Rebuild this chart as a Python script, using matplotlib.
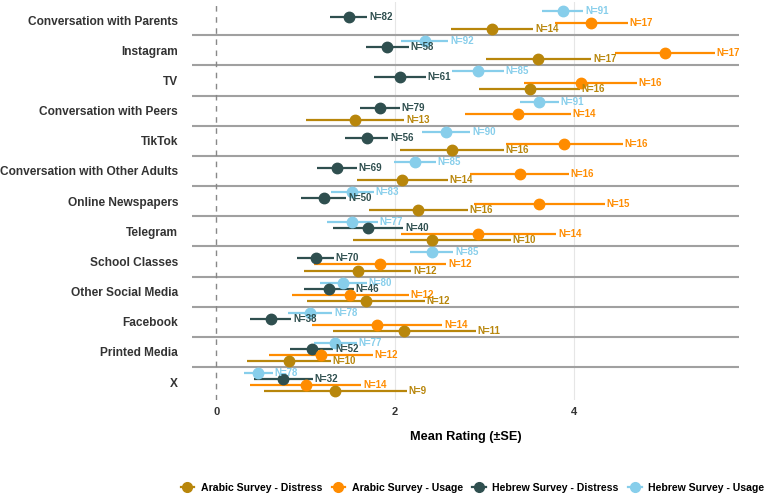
import matplotlib
matplotlib.use("Agg")
import matplotlib.pyplot as plt
from matplotlib.lines import Line2D
import numpy as np

plt.rcParams['font.family'] = ['Liberation Sans', 'DejaVu Sans']

categories = ["Conversation with Parents", "Instagram", "TV", "Conversation with Peers",
              "TikTok", "Conversation with Other Adults", "Online Newspapers", "Telegram",
              "School Classes", "Other Social Media", "Facebook", "Printed Media", "X"]

# Hebrew Survey - Usage
hu_mean = [3.87, 2.33, 2.92, 3.61, 2.57, 2.22, 1.52, 1.52, 2.41, 1.42, 1.05, 1.33, 0.47]
hu_se = [0.23, 0.265, 0.29, 0.22, 0.27, 0.235, 0.24, 0.285, 0.24, 0.26, 0.245, 0.24, 0.16]
hu_n = [91, 92, 85, 91, 90, 85, 83, 77, 85, 80, 78, 77, 78]
# Hebrew Survey - Distress
hd_mean = [1.48, 1.91, 2.05, 1.83, 1.68, 1.35, 1.20, 1.70, 1.11, 1.26, 0.61, 1.07, 0.75]
hd_se = [0.21, 0.24, 0.29, 0.22, 0.245, 0.22, 0.255, 0.39, 0.205, 0.28, 0.23, 0.24, 0.33]
hd_n = [82, 58, 61, 79, 56, 69, 50, 40, 70, 46, 38, 52, 32]
# Arabic Survey - Usage
au_mean = [4.19, 5.01, 4.07, 3.37, 3.89, 3.39, 3.61, 2.93, 1.83, 1.50, 1.80, 1.17, 1.00]
au_se = [0.41, 0.56, 0.63, 0.59, 0.65, 0.55, 0.73, 0.87, 0.74, 0.65, 0.725, 0.58, 0.62]
au_n = [17, 17, 16, 14, 16, 16, 15, 14, 12, 12, 14, 12, 14]
# Arabic Survey - Distress
ad_mean = [3.08, 3.60, 3.50, 1.55, 2.63, 2.08, 2.26, 2.41, 1.58, 1.67, 2.10, 0.81, 1.33]
ad_se = [0.46, 0.59, 0.56, 0.55, 0.58, 0.51, 0.55, 0.88, 0.60, 0.66, 0.80, 0.47, 0.80]
ad_n = [14, 17, 16, 13, 16, 14, 16, 10, 12, 12, 11, 10, 9]

series = [
    ("Hebrew Survey - Usage", hu_mean, hu_se, hu_n, "#87CEEB", -0.3),
    ("Hebrew Survey - Distress", hd_mean, hd_se, hd_n, "#2F4F4F", -0.1),
    ("Arabic Survey - Usage", au_mean, au_se, au_n, "#FF8C00", 0.1),
    ("Arabic Survey - Distress", ad_mean, ad_se, ad_n, "#B8860B", 0.3),
]

fig = plt.figure(figsize=(7.67, 4.96), dpi=100)
ax = fig.add_axes([0.2503, 0.193, 0.7132, 0.803])

y = np.arange(len(categories))

for name, m, se, n, col, off in series:
    m = np.array(m)
    se = np.array(se)
    ax.errorbar(m, y + off, xerr=se, fmt='o', color=col, ms=7.5, elinewidth=1.6,
                capsize=0, zorder=3)
    for yi, mi, si, ni in zip(y + off, m, se, n):
        ax.text(mi + si + 0.02, yi, f"N={ni}", color=col, fontsize=7,
                fontweight='bold', va='center', ha='left', zorder=4)

for i in range(len(categories) - 1):
    ax.axhline(i + 0.5, color="#a0a0a0", lw=1.5, zorder=1)

ax.axvline(0, color="#888888", lw=1, ls=(0, (4, 4)), zorder=1)
for gx in [2, 4]:
    ax.axvline(gx, color="#e6e6e6", lw=0.8, zorder=0)

ax.set_xlim(-0.27, 5.84)
ax.set_ylim(len(categories) - 1 + 0.6, -0.6)
ax.set_yticks(y)
ax.set_yticklabels(categories, fontsize=8.6, fontweight='bold', color="#333333")
ax.set_xticks([0, 2, 4])
ax.set_xticklabels(["0", "2", "4"], fontsize=8, fontweight='bold', color="#333333")
ax.tick_params(length=0, pad=10)
ax.tick_params(axis='x', pad=5)
for s in ax.spines.values():
    s.set_visible(False)
ax.set_xlabel("Mean Rating (\u00b1SE)", fontsize=9.2, fontweight='bold', labelpad=10)

handles = []
for name, m, se, n, col, off in reversed(series):
    handles.append(Line2D([0], [0], color=col, marker='o', ms=7, lw=1.6, label=name))
fig.legend(handles=handles, loc='lower center', ncol=4, frameon=False,
           prop={'weight': 'bold', 'size': 7.6}, handlelength=1.3, handletextpad=0.6,
           columnspacing=0.9, bbox_to_anchor=(0.616, -0.013))

fig.savefig("out.png", dpi=100)
